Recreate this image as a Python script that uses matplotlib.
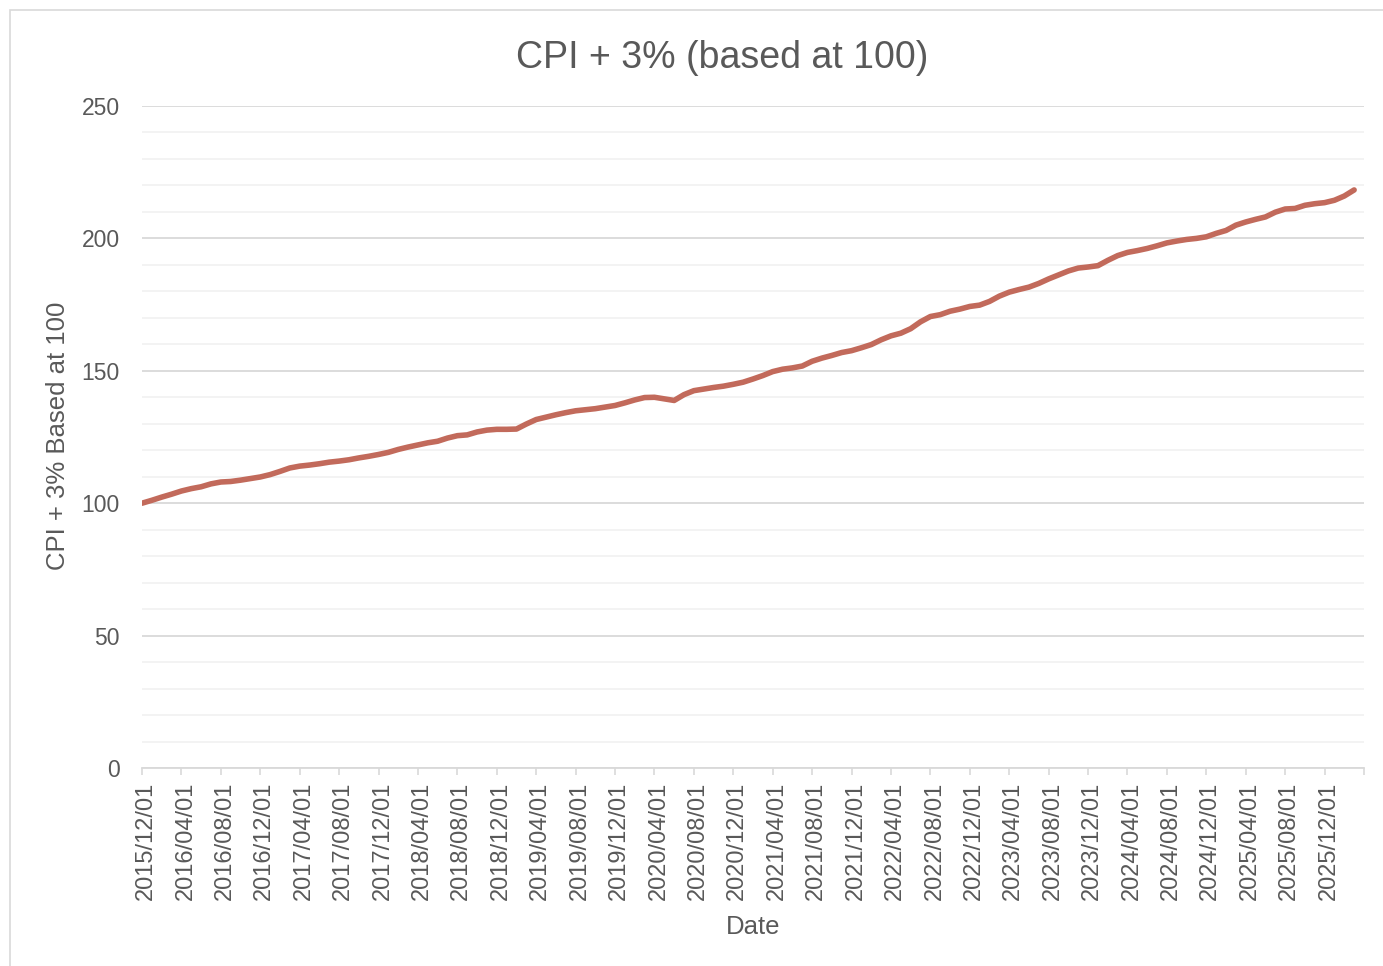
import matplotlib
matplotlib.use("Agg")
import matplotlib.pyplot as plt
import matplotlib.transforms as mtransforms
import numpy as np
from matplotlib.patches import Rectangle
from matplotlib.ticker import MultipleLocator

# monthly values from 2015/12/01, CPI + 3% rebased to 100
values = [
    100.0, 101.1, 102.3, 103.4, 104.6, 105.5, 106.2, 107.3, 108.0, 108.2,
    108.7, 109.3, 109.9, 110.8, 112.0, 113.3, 114.0, 114.4, 114.9, 115.5,
    115.9, 116.4, 117.1, 117.7, 118.4, 119.2, 120.3, 121.2, 122.0, 122.8,
    123.4, 124.6, 125.5, 125.8, 126.9, 127.6, 127.9, 127.9, 128.0, 129.9,
    131.6, 132.5, 133.4, 134.2, 134.9, 135.3, 135.7, 136.3, 136.9, 137.9,
    139.0, 139.9, 140.0, 139.4, 138.8, 141.0, 142.5, 143.1, 143.7, 144.2,
    144.9, 145.7, 146.9, 148.2, 149.7, 150.6, 151.1, 151.8, 153.6, 154.8,
    155.8, 156.9, 157.6, 158.7, 159.9, 161.7, 163.2, 164.2, 165.9, 168.5,
    170.5, 171.2, 172.5, 173.3, 174.3, 174.8, 176.2, 178.2, 179.7, 180.7,
    181.6, 183.0, 184.7, 186.2, 187.7, 188.8, 189.2, 189.7, 191.7, 193.5,
    194.7, 195.4, 196.2, 197.2, 198.3, 199.0, 199.6, 200.0, 200.6, 201.9,
    203.0, 205.0, 206.2, 207.2, 208.1, 209.9, 211.1, 211.3, 212.5, 213.1,
    213.5, 214.4, 216.0, 218.3,
]

tick_labels = [
    "2015/12/01", "2016/04/01", "2016/08/01", "2016/12/01", "2017/04/01",
    "2017/08/01", "2017/12/01", "2018/04/01", "2018/08/01", "2018/12/01",
    "2019/04/01", "2019/08/01", "2019/12/01", "2020/04/01", "2020/08/01",
    "2020/12/01", "2021/04/01", "2021/08/01", "2021/12/01", "2022/04/01",
    "2022/08/01", "2022/12/01", "2023/04/01", "2023/08/01", "2023/12/01",
    "2024/04/01", "2024/08/01", "2024/12/01", "2025/04/01", "2025/08/01",
    "2025/12/01", "",
]

TEXT = "#595959"
GRID = "#d9d9d9"
LINE = "#C26A5B"

plt.rcParams["font.family"] = ["Liberation Sans", "DejaVu Sans"]

W, H = 1383, 966
fig = plt.figure(figsize=(W / 100, H / 100), dpi=100)
fig.patch.set_facecolor("white")

# chart-area border
fig.add_artist(Rectangle((10 / W, -0.05), 1.1, 1 - 10 / H + 0.05,
                         transform=fig.transFigure, fill=False,
                         edgecolor=GRID, linewidth=1.2))

ax = fig.add_axes([142 / W, 1 - 768 / H, (1364 - 142) / W, (768 - 106) / H])

x = np.arange(len(values))
ax.plot(x, values, color=LINE, linewidth=4.0, solid_capstyle="round",
        solid_joinstyle="round", zorder=3)

ax.set_xlim(0, 124)
ax.set_ylim(0, 250)

ax.yaxis.set_major_locator(MultipleLocator(50))
ax.yaxis.set_minor_locator(MultipleLocator(10))
ax.grid(axis="y", which="major", color=GRID, linewidth=1.3)
ax.grid(axis="y", which="minor", color="#f0f0f0", linewidth=1.1)
ax.set_axisbelow(True)

ticks = np.arange(0, 125, 4)
ax.set_xticks(ticks)
ax.set_xticklabels(tick_labels, rotation=90, fontsize=17, color=TEXT)
ax.tick_params(axis="x", length=5, width=1.2, color=GRID, pad=5)
ax.tick_params(axis="y", which="both", length=0, pad=16, labelsize=16.5,
               labelcolor=TEXT)
shift = mtransforms.ScaledTranslation(4 / 100, 0, fig.dpi_scale_trans)
for lbl in ax.get_xticklabels():
    lbl.set_transform(lbl.get_transform() + shift)

for side in ("top", "right", "left"):
    ax.spines[side].set_visible(False)
ax.spines["bottom"].set_color(GRID)
ax.spines["bottom"].set_linewidth(1.3)

fig.text(722 / W, 1 - 58 / H, "CPI + 3% (based at 100)", ha="center",
         va="center", fontsize=27, color=TEXT)
fig.text(58 / W, 1 - 436 / H, "CPI + 3% Based at 100", ha="center",
         va="center", rotation=90, fontsize=18.5, color=TEXT)
fig.text(753 / W, 1 - 927 / H, "Date", ha="center", va="center",
         fontsize=18.5, color=TEXT)

fig.savefig("out.png", dpi=100)
